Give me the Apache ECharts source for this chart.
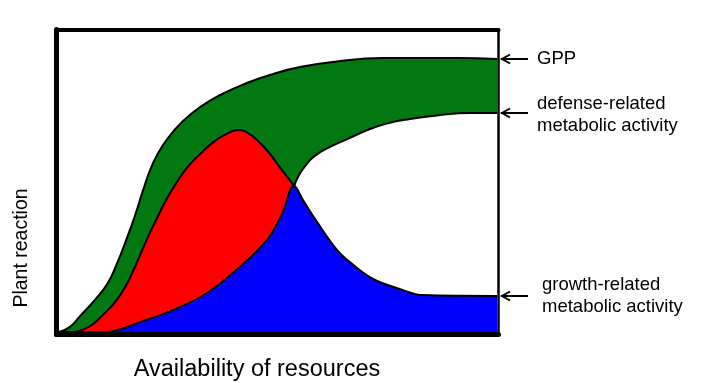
<!DOCTYPE html>
<html>
<head>
<meta charset="utf-8">
<script src="https://cdn.jsdelivr.net/npm/echarts@6/dist/echarts.min.js"></script>
<style>
html,body{margin:0;padding:0;background:#fff;}
#chart{width:703px;height:383px;}
</style>
</head>
<body>
<div id="chart"></div>
<script>
// Data (arbitrary units: x = availability of resources, y = plant reaction)
const gpp = [[0,0],[2.5,1.7],[4.8,5.3],[8.2,10.7],[11,16],[13.2,22.7],[15.5,31.3],[17.4,39],[19.2,47.3],[20.8,54],[22.4,59],[24.9,64.7],[28.1,70],[32.2,75],[36.8,79],[42.9,83],[48.9,86],[55,88.3],[62.6,90],[74,91.3],[90.9,91.3],[100,91]];
const defenseLeft = [[3.7,0],[7.1,2],[10,5.7],[12.8,10],[15.1,15],[16.9,20.3],[18.7,26.3],[20.5,32.3],[22.4,38],[24.2,43.3],[26.5,49],[29.2,54.7],[32.2,59.3],[35.6,63.7],[38.6,66.3],[40.9,67.3],[43.2,66.3],[45.9,63],[48.2,59.3],[50.2,55.3],[52.1,51.7],[53.7,48.7]];
const defenseRight = [[53.7,48.7],[54.8,52.3],[56.4,55.7],[58.4,58.7],[61.9,61.7],[65.8,64.3],[69.9,67],[74.4,69.3],[80.1,71],[87,72.3],[93.8,73],[100,73]];
const growth = [[0,0],[9.4,0],[12.3,0.3],[18.5,3.3],[26,7.3],[33.8,13],[41.3,21.7],[47.5,30.7],[50.9,39.3],[53.7,48.7],[55.7,44],[58.9,36.7],[63.5,27.3],[66.4,23.3],[71.7,17.7],[77.9,14.3],[83.1,12.3],[100,12]];
const curveLabels = [
  {name:'GPP', text:'GPP', series:gpp},
  {name:'defense', text:'defense-related\nmetabolic activity', series:defenseRight},
  {name:'growth', text:'growth-related\nmetabolic activity', series:growth}
];
const xTitle = 'Availability of resources';
const yTitle = 'Plant reaction';

const GREEN = '#027811', RED = '#ff0000', BLUE = '#0000ff', WHITE = '#ffffff';
const FONT = '"Liberation Sans", Arial, sans-serif';

const chart = echarts.init(document.getElementById('chart'), null, {renderer:'canvas'});

function area(data, color, smooth){
  return {
    type:'line', data:data, smooth:smooth, symbol:'none', silent:true,
    lineStyle:{color:'#000', width:2},
    areaStyle:{color:color, opacity:1, origin:'start'},
    z:2
  };
}

const axisCommon = {type:'value', splitLine:{show:false}, axisTick:{show:false}, axisLabel:{show:false}};
const xMin = -0.57, xMax = 100.34, yMin = -0.83, yMax = 100.83;

chart.setOption({
  animation:false,
  backgroundColor:'#fff',
  grid:{left:56.5, top:29.5, width:442, height:305, containLabel:false, outerBoundsMode:'none'},
  xAxis:[
    Object.assign({}, axisCommon, {min:xMin, max:xMax, position:'bottom',
      axisLine:{show:true, onZero:false, lineStyle:{color:'#000', width:5}}, z:10}),
    Object.assign({}, axisCommon, {min:xMin, max:xMax, position:'top',
      axisLine:{show:true, onZero:false, lineStyle:{color:'#000', width:4}}, z:10})
  ],
  yAxis:[
    Object.assign({}, axisCommon, {min:yMin, max:yMax, position:'left',
      axisLine:{show:true, onZero:false, lineStyle:{color:'#000', width:5}}, z:10}),
    Object.assign({}, axisCommon, {min:yMin, max:yMax, position:'right',
      axisLine:{show:true, onZero:false, lineStyle:{color:'#000', width:2.5}}, z:10})
  ],
  series:[
    area(gpp, GREEN, 0.5),
    area(defenseLeft, RED, 0.5),
    area(defenseRight, WHITE, 0.5),
    area(growth, BLUE, 0.4)
  ]
});

// Titles and arrow annotations
const graphics = [
  {type:'text', x:257, y:370, style:{text:xTitle, font:'23.5px ' + FONT, fill:'#000', align:'center', verticalAlign:'middle'}},
  {type:'text', x:22, y:248, rotation:Math.PI/2, style:{text:yTitle, font:'19.5px ' + FONT, fill:'#000', align:'center', verticalAlign:'middle'}}
];
curveLabels.forEach(function(c){
  const last = c.series[c.series.length-1];
  const p = chart.convertToPixel({xAxisIndex:0, yAxisIndex:0}, last);
  const y = Math.round(p[1]);
  const x0 = p[0] + 4;
  graphics.push({type:'line', shape:{x1:x0, y1:y, x2:x0+27, y2:y}, style:{stroke:'#000', lineWidth:2}});
  graphics.push({type:'polyline', shape:{points:[[x0+9,y-4.5],[x0+1,y],[x0+9,y+4.5]]}, style:{stroke:'#000', lineWidth:2, fill:null}});
  const tx = c.name === 'growth' ? x0 + 41 : x0 + 36;
  graphics.push({type:'text', x:tx, y:y + (c.name==='defense'?2:0),
    style:{text:c.text, font:'18.5px ' + FONT, fill:'#000', verticalAlign:'middle', lineHeight:22}});
});
chart.setOption({graphic:graphics});
</script>
</body>
</html>
